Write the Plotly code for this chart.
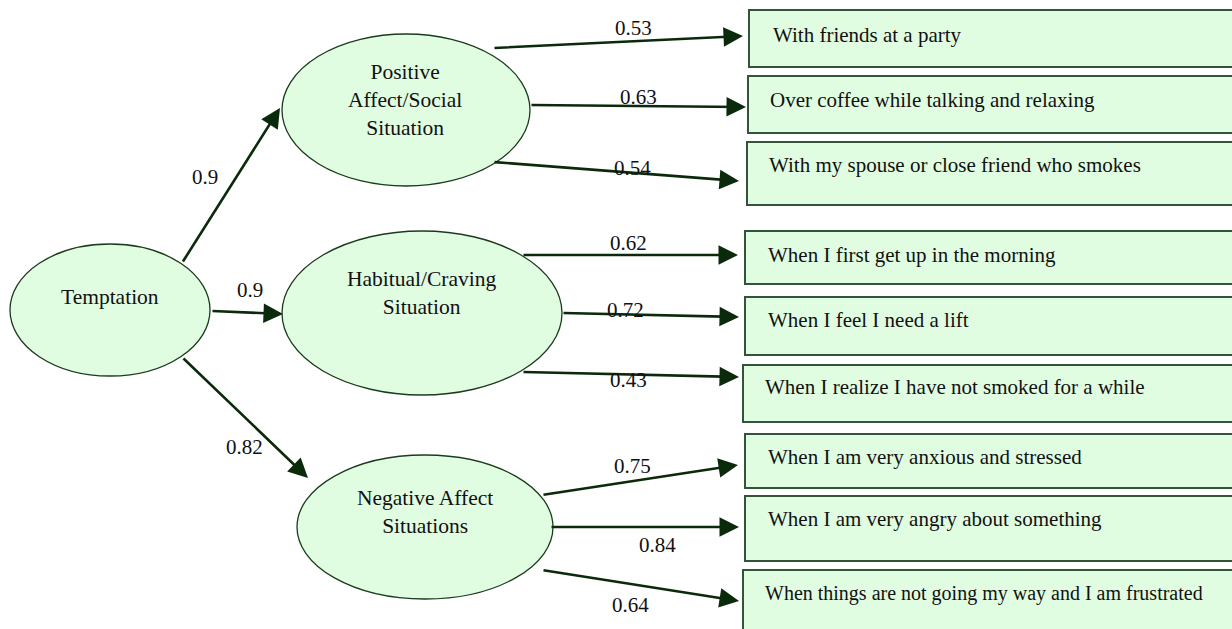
import plotly.graph_objects as go

# ---- data ----
root_label = "Temptation"
factor_labels = ["Positive<br>Affect/Social<br>Situation",
                 "Habitual/Craving<br>Situation",
                 "Negative Affect<br>Situations"]
factor_loadings = [0.9, 0.9, 0.82]
item_labels = ["With friends at a party",
               "Over coffee while talking and relaxing",
               "With my spouse or close friend who smokes",
               "When I first get up in the morning",
               "When I feel I need a lift",
               "When I realize I have not smoked for a while",
               "When I am very anxious and stressed",
               "When I am very angry about something",
               "When things are not going my way and I am frustrated"]
item_loadings = [0.53, 0.63, 0.54, 0.62, 0.72, 0.43, 0.75, 0.84, 0.64]

# ---- layout geometry (page pixel coordinates) ----
W, H = 1232, 629
root_ell = (110, 310, 100, 66)          # cx, cy, rx, ry
root_text = (110, 297)
factor_ells = [(406, 110, 124, 76), (422, 313, 140, 82), (425, 527, 128, 72)]
factor_text = [(405, 100), (422, 293), (425, 512)]
box_x0 = [749, 748, 747, 745, 745, 743, 745, 745, 743]
box_y = [(10, 67), (76, 133), (142, 205), (231, 284), (297, 355), (365, 422),
         (434, 488), (496, 561), (570, 640)]
item_text = [(771, 35), (768, 100), (767, 165), (766, 255), (766, 320), (763, 387),
             (766, 457), (766, 519), (763, 593)]
item_font = [21, 21, 21, 21, 21, 21, 21, 21, 20]
factor_arrows = [((182, 263), (280, 108)), ((211, 311), (283, 314)), ((182, 357), (308, 478))]
factor_lab_pos = [(205, 177), (250, 290), (244, 447)]
item_arrows = [((493, 48), (743, 36)), ((530, 105), (746, 107)), ((493, 162), (739, 181)),
               ((522, 255), (738, 255)), ((562, 313), (739, 317)), ((522, 372), (739, 377)),
               ((542, 495), (738, 465)), ((550, 527), (739, 527)), ((542, 570), (739, 601))]
item_lab_pos = [(633, 28), (638, 97), (632, 168), (628, 243), (625, 310), (628, 380),
                (632, 466), (657, 545), (630, 605)]

FILL = "#e1fde1"
ELL_LINE = "#1c3a1c"
BOX_LINE = "#34543a"
ARROW = "#0b2a0b"
FAMILY = "Liberation Serif, Times New Roman, serif"


def font(size):
    return dict(family=FAMILY, size=size, color="#111111")


fig = go.Figure()
shapes = []
annotations = []


def ellipse(cx, cy, rx, ry):
    return dict(type="circle", xref="x", yref="y", x0=cx - rx, x1=cx + rx,
                y0=cy - ry, y1=cy + ry, fillcolor=FILL,
                line=dict(color=ELL_LINE, width=1.3), layer="below")


shapes.append(ellipse(*root_ell))
for e in factor_ells:
    shapes.append(ellipse(*e))
for x0, (y0, y1) in zip(box_x0, box_y):
    xr = W + 30
    # open on the right: the boxes run off the edge of the page
    path = f"M {xr},{y0} L {x0},{y0} L {x0},{y1} L {xr},{y1}"
    shapes.append(dict(type="path", xref="x", yref="y", path=path,
                       fillcolor=FILL, line=dict(color=BOX_LINE, width=2), layer="below"))


def arrow(tail, tip):
    return dict(x=tip[0], y=tip[1], ax=tail[0], ay=tail[1], xref="x", yref="y",
                axref="x", ayref="y", text="", showarrow=True, arrowhead=2,
                arrowsize=1.5, arrowwidth=2.6, arrowcolor=ARROW, standoff=0)


for (tail, tip) in factor_arrows + item_arrows:
    annotations.append(arrow(tail, tip))

annotations.append(dict(x=root_text[0], y=root_text[1], text=root_label, showarrow=False,
                        font=font(21.5), xref="x", yref="y"))
for lab, (x, y) in zip(factor_labels, factor_text):
    annotations.append(dict(x=x, y=y, text=lab, showarrow=False, font=font(21.5),
                            xref="x", yref="y", align="center"))
for lab, (x, y), fs in zip(item_labels, item_text, item_font):
    annotations.append(dict(x=x, y=y, text=lab, showarrow=False, font=font(fs),
                            xref="x", yref="y", xanchor="left"))
for v, (x, y) in zip(factor_loadings, factor_lab_pos):
    annotations.append(dict(x=x, y=y, text=str(v), showarrow=False, font=font(21),
                            xref="x", yref="y"))
for v, (x, y) in zip(item_loadings, item_lab_pos):
    annotations.append(dict(x=x, y=y, text=str(v), showarrow=False, font=font(21),
                            xref="x", yref="y"))

fig.update_layout(
    width=W, height=H, margin=dict(l=0, r=0, t=0, b=0),
    paper_bgcolor="white", plot_bgcolor="white",
    xaxis=dict(range=[0, W], visible=False, fixedrange=True),
    yaxis=dict(range=[H, 0], visible=False, fixedrange=True),
    shapes=shapes, annotations=annotations, showlegend=False, hovermode=False,
)
fig.write_html(
    "out.html",
    config={"displayModeBar": False, "staticPlot": True},
    post_script=("document.body.style.margin='0';"
                 "document.body.style.overflow='hidden';"
                 "document.documentElement.style.overflow='hidden';"),
)
